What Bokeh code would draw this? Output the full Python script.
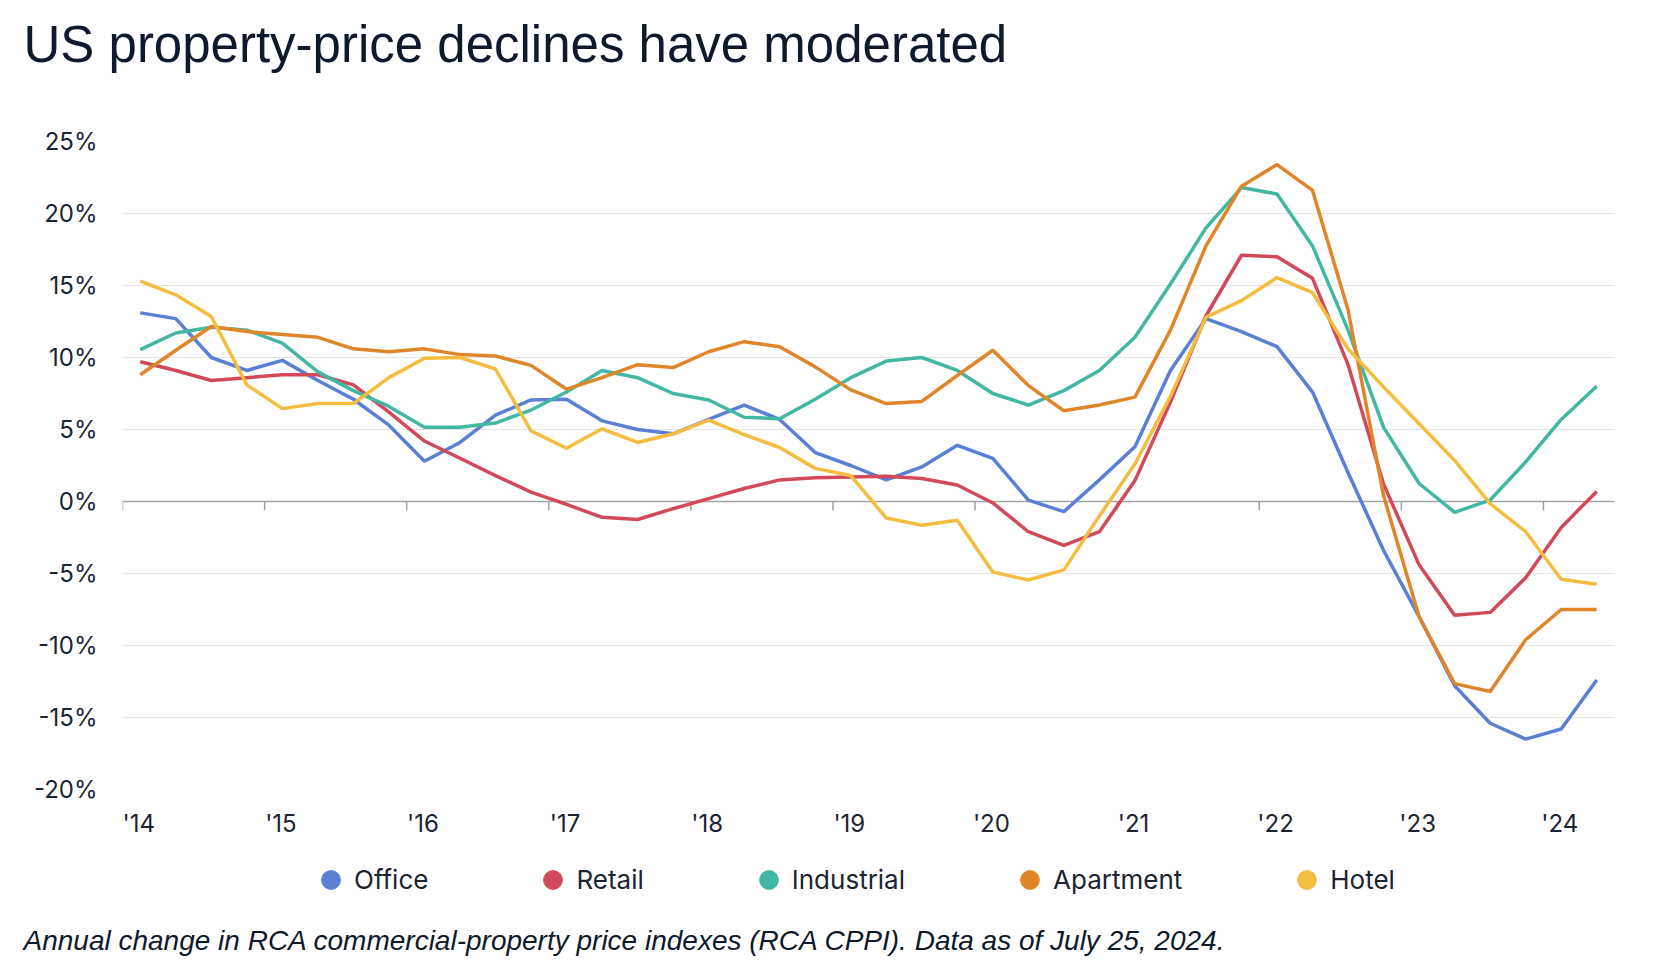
import math
from bokeh.plotting import figure
from bokeh.layouts import column
from bokeh.models import (Range1d, FixedTicker, Legend, LegendItem, Span, Title,
                          PrintfTickFormatter)
from bokeh.embed import file_html
from bokeh.resources import INLINE

# ---------------- data ----------------
quarters = [f"{y}Q{q}" for y in range(2014, 2025) for q in range(1, 5)][:42]

office = [13.1, 12.7, 10.0, 9.1, 9.8, 8.4, 7.1, 5.3, 2.8, 4.1, 6.0, 7.05,
          7.1, 5.6, 5.0, 4.7, 5.7, 6.7, 5.7, 3.4, 2.5, 1.5, 2.4, 3.9,
          3.0, 0.1, -0.7, 1.5, 3.8, 9.1, 12.7, 11.8, 10.75, 7.6, 2.0, -3.4,
          -8.0, -12.8, -15.4, -16.5, -15.8, -12.4]
retail = [9.7, 9.1, 8.4, 8.6, 8.8, 8.8, 8.1, 6.2, 4.2, 3.0, 1.8, 0.65,
          -0.2, -1.1, -1.25, -0.5, 0.2, 0.9, 1.5, 1.65, 1.7, 1.75, 1.6, 1.15,
          -0.1, -2.1, -3.05, -2.1, 1.45, 6.9, 12.9, 17.1, 17.0, 15.5, 9.5, 1.2,
          -4.4, -7.9, -7.7, -5.3, -1.8, 0.7]
industrial = [10.55, 11.7, 12.1, 11.9, 11.0, 9.0, 7.7, 6.6, 5.15, 5.15, 5.45, 6.35,
              7.6, 9.1, 8.6, 7.5, 7.05, 5.85, 5.75, 7.1, 8.6, 9.75, 10.0, 9.1,
              7.5, 6.7, 7.7, 9.1, 11.4, 15.1, 19.0, 21.8, 21.35, 17.75, 11.9, 5.15,
              1.25, -0.75, 0.1, 2.75, 5.7, 8.0]
apartment = [8.8, 10.5, 12.15, 11.8, 11.6, 11.4, 10.6, 10.4, 10.6, 10.2, 10.1, 9.45,
             7.8, 8.6, 9.5, 9.3, 10.4, 11.1, 10.75, 9.35, 7.75, 6.8, 6.95, 8.75,
             10.5, 8.05, 6.3, 6.7, 7.25, 11.9, 17.75, 21.9, 23.4, 21.6, 13.3, 0.4,
             -8.0, -12.65, -13.2, -9.6, -7.5, -7.5]
hotel = [15.3, 14.35, 12.85, 8.1, 6.45, 6.8, 6.8, 8.6, 9.95, 10.0, 9.2, 4.9,
         3.7, 5.05, 4.1, 4.7, 5.65, 4.65, 3.75, 2.3, 1.8, -1.15, -1.65, -1.3,
         -4.9, -5.45, -4.75, -1.0, 2.6, 7.3, 12.8, 13.95, 15.55, 14.5, 10.6, 7.95,
         5.4, 2.85, -0.15, -2.1, -5.4, -5.75]

series_names = ["Office", "Retail", "Industrial", "Apartment", "Hotel"]
series_colors = ["#5b7fd5", "#d2495a", "#42b8a2", "#e0862a", "#f4bd3f"]
series_values = [office, retail, industrial, apartment, hotel]

tick_years = list(range(2014, 2025))
tick_labels = [f"'{str(y)[2:]}" for y in tick_years]
y_ticks = [-20, -15, -10, -5, 0, 5, 10, 15, 20, 25]

title_text = "US property-price declines have moderated"
caption_text = ("Annual change in RCA commercial-property price indexes (RCA CPPI). "
                "Data as of July 25, 2024.")


# quarter label -> mid-quarter decimal year
def qpos(q):
    y, n = q.split("Q")
    return int(y) + (int(n) - 0.5) / 4.0


xs = [qpos(q) for q in quarters]

TEXT = "#1b2433"
DARK = "#0e1a2b"
W = 1646
LEFT, RIGHT = 122, 32
AXIS_FONT = "Inter"

# ---------------- title strip ----------------
pt = figure(width=W, height=108, output_backend="svg", toolbar_location=None,
            x_axis_location=None, y_axis_location=None,
            min_border_top=0, min_border_left=LEFT, min_border_right=RIGHT,
            min_border_bottom=0)
pt.outline_line_color = None
pt.grid.visible = False
pt.title.text = title_text
pt.title.text_font = "Liberation Sans"
pt.title.text_font_size = "51px"
pt.title.text_font_style = "normal"
pt.title.text_color = DARK
pt.title.align = "left"
pt.title.offset = -99
pt.title.standoff = 27

# ---------------- main chart ----------------
p = figure(width=W, height=732, output_backend="svg", toolbar_location=None,
           x_range=Range1d(2014, 2024.5), y_range=Range1d(-20, 25),
           min_border_left=LEFT, min_border_right=RIGHT, min_border_top=33,
           min_border_bottom=50)
p.outline_line_color = None

p.xgrid.visible = False
p.ygrid.ticker = FixedTicker(ticks=y_ticks)
p.ygrid.grid_line_color = "#e4e4e4"
p.ygrid.grid_line_width = 1

p.yaxis.ticker = FixedTicker(ticks=y_ticks)
p.yaxis.formatter = PrintfTickFormatter(format="%d%%")
p.yaxis.axis_line_color = None
p.yaxis.major_tick_line_color = None
p.yaxis.major_tick_out = 0
p.yaxis.major_tick_in = 0
p.yaxis.minor_tick_line_color = None
p.yaxis.major_label_standoff = 25
p.yaxis.major_label_text_font = AXIS_FONT
p.yaxis.major_label_text_font_size = "24px"
p.yaxis.major_label_text_color = TEXT

# x labels start at the year tick
label_shift = 0.115
label_pos = [round(y + label_shift, 3) for y in tick_years]
p.xaxis.ticker = FixedTicker(ticks=label_pos)
p.xaxis.major_label_overrides = {lp: lab for lp, lab in zip(label_pos, tick_labels)}
p.xaxis.axis_line_color = None
p.xaxis.major_tick_line_color = None
p.xaxis.major_tick_out = 0
p.xaxis.major_tick_in = 0
p.xaxis.minor_tick_line_color = None
p.xaxis.major_label_standoff = 19
p.xaxis.major_label_text_font = AXIS_FONT
p.xaxis.major_label_text_font_size = "24px"
p.xaxis.major_label_text_color = TEXT

# zero line with year ticks
zero = Span(location=0, dimension="width", line_color="#a3a3a3", line_width=1.5,
            level="underlay")
p.add_layout(zero)
tick_len = 0.62
p.segment(x0=tick_years, y0=[0] * len(tick_years), x1=tick_years,
          y1=[-tick_len] * len(tick_years), line_color="#a3a3a3", line_width=1.5)

for name, col, vals in zip(series_names, series_colors, series_values):
    p.line(xs, vals, line_color=col, line_width=3.5)

# ---------------- legend + caption strip ----------------
pl = figure(width=W, height=132, output_backend="svg", toolbar_location=None,
            x_axis_location=None, y_axis_location=None,
            min_border_top=12, min_border_left=LEFT, min_border_right=RIGHT,
            min_border_bottom=0)
pl.outline_line_color = None
pl.grid.visible = False
items = []
for name, col in zip(series_names, series_colors):
    r = pl.scatter(x=[math.nan], y=[math.nan], marker="circle", size=19,
                   fill_color=col, line_color=col)
    items.append(LegendItem(label=name, renderers=[r]))

legend = Legend(items=items, orientation="horizontal", location=(185, 3),
                glyph_width=47, glyph_height=47, label_standoff=0, spacing=101,
                label_text_font=AXIS_FONT, label_text_font_size="26px",
                label_text_color=TEXT, border_line_color=None,
                background_fill_alpha=0, padding=0, margin=0)
pl.add_layout(legend, "center")

caption = Title(text=caption_text, text_font="Liberation Sans",
                text_font_size="28px", text_font_style="italic",
                text_color=DARK, align="left", offset=-99, standoff=33)
pl.add_layout(caption, "below")

layout = column(pt, p, pl, spacing=0)
open("out.html", "w").write(file_html(layout, INLINE))
